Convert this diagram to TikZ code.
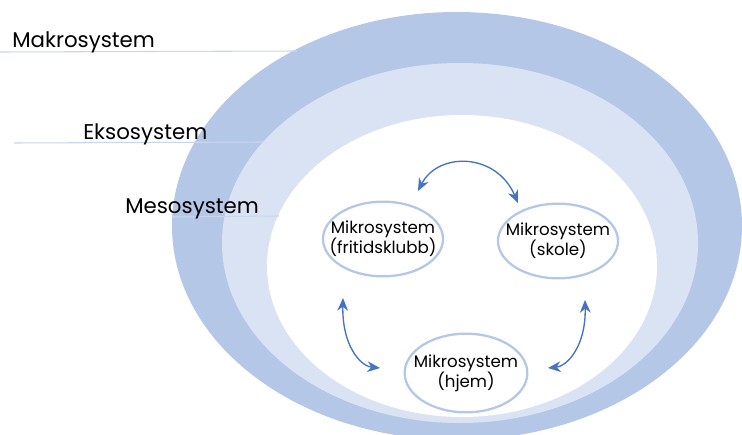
\documentclass[tikz,border=0pt]{standalone}
\usepackage{fontspec}
\setmainfont{Poppins}
\usetikzlibrary{shapes.geometric,arrows.meta}

\definecolor{ringdark}{RGB}{180,199,231}
\definecolor{ringlight}{RGB}{218,227,243}
\definecolor{leadcol}{RGB}{202,214,237}
\definecolor{linkblue}{RGB}{68,114,196}

\tikzset{
  mikro/.style={ellipse, draw=ringdark, line width=1.7pt, fill=white, minimum width=90pt, minimum height=56pt, inner xsep=-14pt, inner ysep=-6pt, align=center, font=\fontsize{12.5}{15}\selectfont},
  syslabel/.style={anchor=base west, inner sep=0pt, font=\fontsize{16}{19}\selectfont},
  leader/.style={draw=leadcol, line width=0.8pt},
  link/.style={draw=linkblue, line width=1pt, {Stealth[length=9.5pt,width=8pt,inset=3pt]}-{Stealth[length=9.5pt,width=8pt,inset=3pt]}}
}

\begin{document}
\begin{tikzpicture}[x=0.75pt,y=0.75pt,yscale=-1,xscale=1]
        \useasboundingbox (0,0) rectangle (742,435);
        \clip (0,0) rectangle (742,435);

        %Shape: Ellipse [makro]
        \fill [ringdark] (457,226) ellipse [x radius=285, y radius=214];
        %Shape: Ellipse [ekso]
        \fill [ringlight] (460,243) ellipse [x radius=238, y radius=180];
        %Shape: Ellipse [meso]
        \fill [white] (462,266) ellipse [x radius=195, y radius=151];

        %Leader lines
        \coordinate (makroA) at (0,52);
        \coordinate (makroB) at (297,51);
        \coordinate (eksoA) at (14,143);
        \coordinate (eksoB) at (263,142);
        \coordinate (mesoA) at (173,217);
        \coordinate (mesoB) at (279,216);
        \draw [leader] (makroA) -- (makroB);
        \draw [leader] (eksoA) -- (eksoB);
        \draw [leader] (mesoA) -- (mesoB);

        % Text Node
        \node [syslabel] (makro) at (12,48) {Makrosystem};
        \node [syslabel] (ekso) at (83,139) {Eksosystem};
        \node [syslabel] (meso) at (125,213) {Mesosystem};

        %Mikrosystem nodes
        \node [mikro] (fritid) at (383,239) {Mikrosystem\\(fritidsklubb)};
        \node [mikro] (skole) at (558,241) {Mikrosystem\\(skole)};
        \node [mikro, minimum width=92pt, minimum height=59pt] (hjem) at (466,373) {Mikrosystem\\(hjem)};

        %Arrow ends
        \coordinate (topL) at (418,191);
        \coordinate (topR) at (518,203);
        \coordinate (leftU) at (343,298);
        \coordinate (leftD) at (380,368);
        \coordinate (rightU) at (585,300);
        \coordinate (rightD) at (548,368);

        %Curve Lines
        \draw [link] (topL) .. controls (438,152) and (496,152) .. (topR);
        \draw [link] (leftU) .. controls (342,345) and (360,366) .. (leftD);
        \draw [link] (rightU) .. controls (586,345) and (568,366) .. (rightD);
    \end{tikzpicture}
\end{document}
